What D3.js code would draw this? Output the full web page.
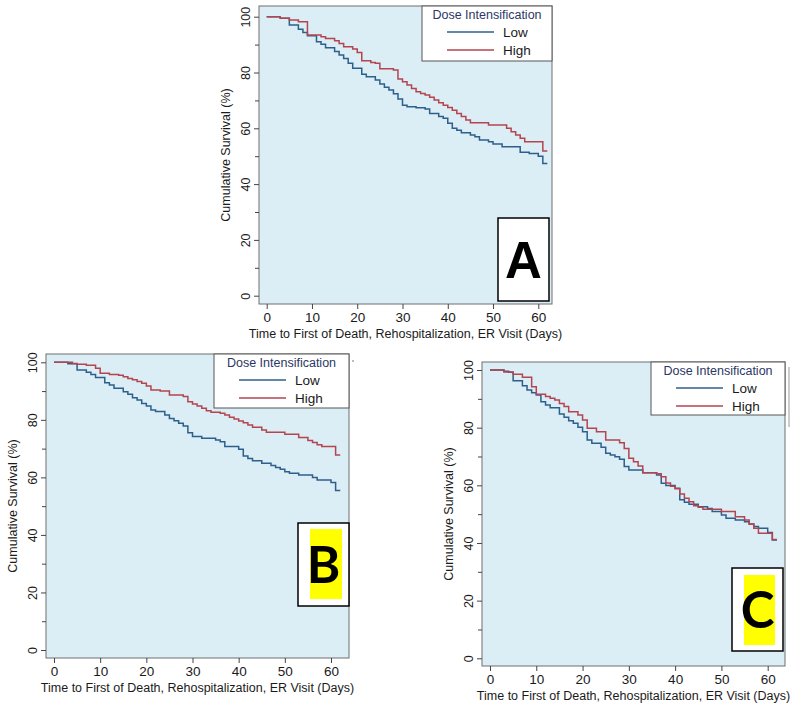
<!DOCTYPE html>
<html>
<head>
<meta charset="utf-8">
<script src="https://cdn.jsdelivr.net/npm/d3@7"></script>
<style>
  body { margin: 0; background: #fff; }
  svg { display: block; font-family: "Liberation Sans", Arial, sans-serif; }
</style>
</head>
<body>
<svg id="chart" width="800" height="714"></svg>
<script>
// tick labels and texts
const xTicks = [0, 10, 20, 30, 40, 50, 60];
const yTicks = [0, 20, 40, 60, 80, 100];
const yMinorTicks = [10, 30, 50, 70, 90];
const seriesNames = ["Low", "High"];
const legendTitle = "Dose Intensification";
const xTitle = "Time to First of Death, Rehospitalization, ER Visit (Days)";
const yTitle = "Cumulative Survival (%)";
const panelLabels = ["A", "B", "C"];

// panel A
const daysLowA = [0, 3, 5, 7, 8, 9, 11, 12, 13, 15, 16, 17, 18, 19, 21, 22, 24, 25, 26, 27, 28, 29, 30, 31, 33, 35, 36, 38, 39, 40, 41, 42, 43, 45, 46, 47, 49, 50, 52, 56, 58, 60, 61, 62];
const survLowA = [100, 99.4, 97, 95.5, 94.3, 93.2, 91, 90.1, 88.9, 87.5, 86.3, 85, 83.3, 81.5, 79.4, 78.5, 77.3, 75.9, 74.7, 73.7, 72.4, 70.5, 68.3, 67.7, 67.4, 66.9, 65.3, 64.2, 63.6, 61.8, 60, 59.3, 58.4, 57.6, 57, 55.8, 55.2, 54.4, 53.4, 51.4, 51, 50, 47.4, 47.4];
const daysHighA = [0, 3, 5, 7, 9, 12, 13, 15, 16, 17, 19, 20, 21, 23, 24, 25, 28, 29, 30, 31, 32, 33, 34, 35, 36, 37, 38, 39, 40, 41, 42, 43, 44, 45, 49, 53, 54, 55, 56, 57, 61, 62];
const survHighA = [100, 99.4, 98.8, 98.2, 93.4, 92.8, 92.2, 91.4, 90.4, 89.2, 88.4, 87.2, 84.2, 83.6, 83.3, 81.3, 80.9, 77.7, 76.7, 75.5, 74.3, 73.1, 72.5, 71.9, 71.1, 70.1, 69.2, 68.3, 67.5, 66.5, 65.3, 64.2, 63, 62, 61.2, 60, 58.8, 57.6, 56.4, 55.2, 51.9, 51.9];

// panel B
const daysLowB = [0, 3, 5, 7, 8, 9, 11, 12, 13, 15, 16, 17, 18, 19, 20, 21, 22, 24, 25, 26, 27, 28, 29, 30, 32, 35, 36, 37, 40, 41, 42, 43, 45, 47, 48, 49, 50, 51, 53, 56, 57, 60, 61, 62];
const survLowB = [100, 99.5, 97.3, 96.5, 95.8, 94.7, 92.9, 92.1, 91, 89.8, 88.9, 87.7, 86.9, 85.7, 84.8, 83.4, 82.9, 81.7, 80.5, 79.7, 78.8, 77.9, 75.5, 74.2, 73.6, 73, 72.4, 70.7, 69.8, 67.4, 66.6, 65.8, 64.9, 64.1, 63.4, 62.8, 62, 61.4, 60.8, 60, 59.1, 58.2, 55.4, 55.4];
const daysHighB = [0, 4, 5, 7, 9, 10, 12, 14, 15, 16, 17, 18, 19, 20, 21, 23, 25, 28, 29, 30, 31, 32, 33, 34, 36, 37, 38, 39, 40, 41, 42, 43, 45, 46, 50, 53, 55, 56, 57, 58, 61, 62];
const survHighB = [100, 99.6, 99.3, 99, 97.9, 96.2, 95.8, 95.5, 95, 94.4, 93.9, 93.3, 92.7, 91.8, 90.4, 90, 88.6, 88.1, 86.3, 85.5, 84.8, 84, 83.2, 82.6, 82.3, 81.7, 80.9, 80.3, 79.6, 79, 78.2, 77.4, 76.5, 75.7, 75, 73.9, 72.8, 72.1, 71.3, 70.7, 67.8, 67.8];

// panel C
const daysLowC = [0, 3, 4, 5, 7, 8, 9, 10, 11, 12, 13, 15, 16, 17, 18, 19, 20, 21, 22, 24, 25, 26, 27, 28, 29, 30, 33, 36, 37, 38, 40, 41, 42, 43, 45, 47, 48, 50, 51, 53, 55, 56, 57, 58, 60, 61, 62];
const survLowC = [100, 99.6, 99.2, 96.3, 94.5, 93.1, 92.1, 91.3, 89, 87.9, 86.9, 84.7, 83.6, 82.4, 81.5, 80.1, 78.6, 75.7, 74.6, 73.2, 71.1, 70.5, 69.9, 69, 66.5, 65.3, 64.4, 63.6, 60.7, 59.9, 59, 55, 54.1, 53.4, 52.6, 52, 50.9, 49.7, 48.6, 48, 47.4, 46.6, 45.7, 45.1, 43.6, 41, 41];
const daysHighC = [0, 3, 5, 7, 9, 10, 12, 13, 14, 15, 16, 17, 19, 20, 21, 23, 25, 28, 29, 30, 31, 32, 33, 36, 37, 38, 39, 40, 41, 42, 43, 44, 45, 46, 50, 53, 55, 56, 57, 58, 61, 62];
const survHighC = [100, 99.3, 98.5, 97.5, 94.2, 91.6, 90.8, 90.2, 89.6, 88.4, 87.3, 85.5, 84.4, 82.7, 79.8, 78.6, 75.7, 74.8, 72.8, 69.4, 68.2, 66.7, 64.4, 64, 63, 60.8, 59.7, 58.8, 57, 55.5, 54.3, 52.9, 52.4, 51.7, 50.9, 49.1, 48, 46.5, 45.1, 43.4, 41.2, 41.2];

const seriesColors = ["#2d5f8c", "#b4444f"];

// layout of the three panels (pixel positions only)
const panels = [
  { label: panelLabels[0], low: [daysLowA, survLowA], high: [daysHighA, survHighA],
    box: [259, 6, 552, 304], xr: [266.7, 538.3], yr: [295.7, 16.7],
    legend: [422, 6, 552, 61], lab: [498, 218, 549, 301], yellow: null, labFont: "Liberation Sans" },
  { label: panelLabels[1], low: [daysLowB, survLowB], high: [daysHighB, survHighB],
    box: [46, 354, 349, 658], xr: [54, 331], yr: [650, 362.3],
    legend: [214, 354, 349, 408], lab: [298, 523, 349, 606], yellow: [310, 529, 342, 599], labFont: "Lato" },
  { label: panelLabels[2], low: [daysLowC, survLowC], high: [daysHighC, survHighC],
    box: [482, 362, 785, 666], xr: [490, 767.7], yr: [658.3, 370],
    legend: [651, 362, 785, 415], lab: [732, 568, 783, 651], yellow: [744, 575, 775, 645], labFont: "Lato" }
];

const svg = d3.select("#chart");

panels.forEach(p => {
  const [bx0, by0, bx1, by1] = p.box;
  const x = d3.scaleLinear().domain([0, 60]).range(p.xr);
  const y = d3.scaleLinear().domain([0, 100]).range(p.yr);
  const g = svg.append("g");

  // plot region
  g.append("rect")
    .attr("x", bx0).attr("y", by0)
    .attr("width", bx1 - bx0).attr("height", by1 - by0)
    .attr("fill", "#dceef5")
    .attr("stroke", "#6e6e6e").attr("stroke-width", 1);

  // y axis
  const gy = g.append("g")
    .attr("transform", `translate(${bx0},0)`)
    .call(d3.axisLeft(y).tickValues(yTicks).tickSize(5).tickPadding(4));
  gy.select(".domain").remove();
  gy.selectAll(".tick line").attr("stroke", "#444");
  gy.selectAll(".tick text")
    .attr("transform", "rotate(-90)")
    .attr("x", 0).attr("y", -9).attr("dy", 0)
    .attr("text-anchor", "middle")
    .attr("font-size", 12.5).attr("fill", "#1a1a1a");
  const gym = g.append("g")
    .attr("transform", `translate(${bx0},0)`)
    .call(d3.axisLeft(y).tickValues(yMinorTicks).tickSize(4).tickFormat(""));
  gym.select(".domain").remove();
  gym.selectAll(".tick line").attr("stroke", "#444");

  // x axis
  const gx = g.append("g")
    .attr("transform", `translate(0,${by1})`)
    .call(d3.axisBottom(x).tickValues(xTicks).tickSize(5).tickPadding(3));
  gx.select(".domain").remove();
  gx.selectAll(".tick line").attr("stroke", "#444");
  gx.selectAll(".tick text").attr("font-size", 13.5).attr("fill", "#1a1a1a");

  // axis titles
  g.append("text")
    .attr("x", (bx0 + bx1) / 2).attr("y", by1 + 34)
    .attr("text-anchor", "middle")
    .attr("font-size", 12.5).attr("fill", "#1a1a1a")
    .text(xTitle);
  g.append("text")
    .attr("transform", `translate(${bx0 - 29},${(by0 + by1) / 2}) rotate(-90)`)
    .attr("text-anchor", "middle")
    .attr("font-size", 12.5).attr("fill", "#1a1a1a")
    .text(yTitle);

  // survival curves
  const line = d3.line()
    .x(d => x(d[0])).y(d => y(d[1]))
    .curve(d3.curveStepAfter);
  [p.low, p.high].forEach((s, i) => {
    g.append("path")
      .datum(d3.zip(s[0], s[1]))
      .attr("d", line)
      .attr("fill", "none")
      .attr("stroke", seriesColors[i])
      .attr("stroke-width", 1.5);
  });

  // legend
  const [lx0, ly0, lx1, ly1] = p.legend;
  g.append("rect")
    .attr("x", lx0).attr("y", ly0)
    .attr("width", lx1 - lx0).attr("height", ly1 - ly0)
    .attr("fill", "#fff").attr("stroke", "#555").attr("stroke-width", 1);
  g.append("text")
    .attr("x", (lx0 + lx1) / 2).attr("y", ly0 + 13)
    .attr("text-anchor", "middle")
    .attr("font-size", 12.5).attr("fill", "#2b3766")
    .text(legendTitle);
  seriesNames.forEach((name, i) => {
    const yy = ly0 + 26 + i * 18;
    g.append("line")
      .attr("x1", lx0 + 25).attr("x2", lx0 + 72)
      .attr("y1", yy).attr("y2", yy)
      .attr("stroke", seriesColors[i]).attr("stroke-width", 1.4);
    g.append("text")
      .attr("x", lx0 + 81).attr("y", yy + 5)
      .attr("font-size", 13.5).attr("fill", "#1a1a1a")
      .text(name);
  });

  // panel letter box
  const [bx, byy, bxe, bye] = p.lab;
  g.append("rect")
    .attr("x", bx).attr("y", byy)
    .attr("width", bxe - bx).attr("height", bye - byy)
    .attr("fill", "#fff").attr("stroke", "#000").attr("stroke-width", 1.5);
  if (p.yellow) {
    const [yx0, yy0, yx1, yy1] = p.yellow;
    g.append("rect")
      .attr("x", yx0).attr("y", yy0)
      .attr("width", yx1 - yx0).attr("height", yy1 - yy0)
      .attr("fill", "#ffff00");
  }
  g.append("text")
    .attr("x", (bx + bxe) / 2).attr("y", (byy + bye) / 2 + 18)
    .attr("text-anchor", "middle")
    .attr("font-family", p.labFont)
    .attr("font-weight", "bold")
    .attr("font-size", 51).attr("fill", "#000")
    .text(p.label);
});

// small stray marks next to panels B and C
svg.append("circle").attr("cx", 353).attr("cy", 361).attr("r", 0.8).attr("fill", "#666");
svg.append("line").attr("x1", 789).attr("x2", 789).attr("y1", 367).attr("y2", 427)
  .attr("stroke", "#999").attr("stroke-width", 1);
</script>
</body>
</html>
